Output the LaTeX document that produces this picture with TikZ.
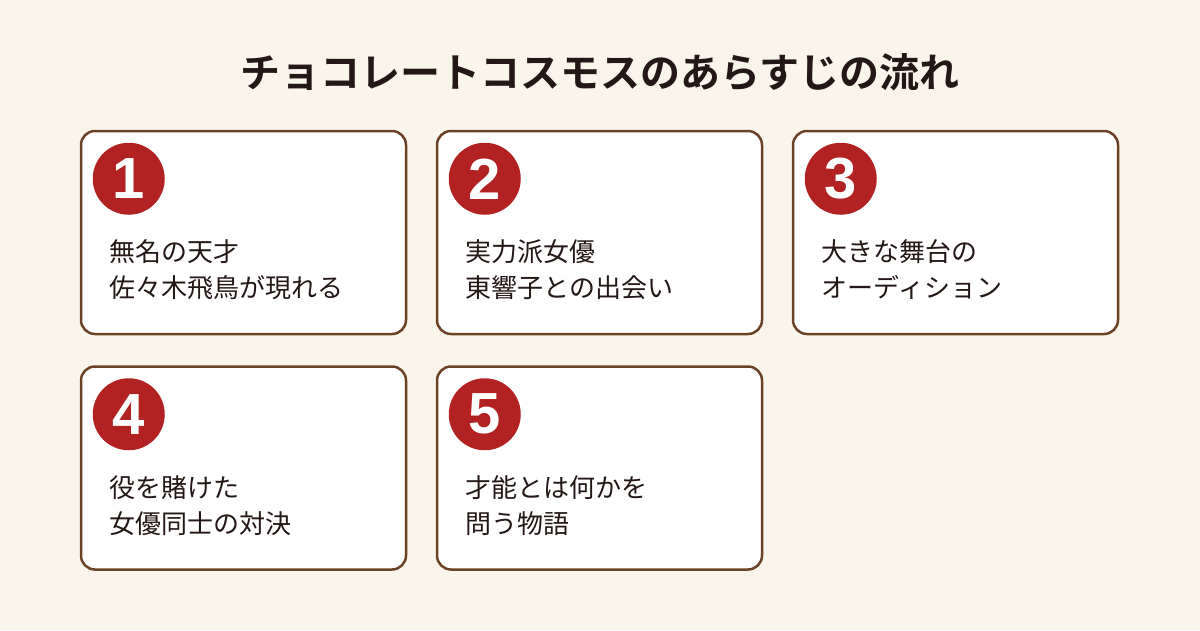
\documentclass[tikz,border=0pt]{standalone}
\usepackage{fontspec}
\newfontfamily\jpfont{Noto Sans CJK JP}
\newfontfamily\jpbold{Noto Sans CJK JP Bold}
\newfontfamily\numfont{Liberation Sans}
\usetikzlibrary{positioning}

\definecolor{fondo}{HTML}{FAF5EA}
\definecolor{marron}{HTML}{6B4226}
\definecolor{rojo}{HTML}{B22222}
\definecolor{tinta}{HTML}{231815}

\tikzset{
  card/.style={draw=marron, line width=2.5pt, fill=white, rounded corners=14pt,
    minimum width=325pt, minimum height=203pt, inner sep=0pt},
  badge/.style={circle, fill=rojo, minimum size=72pt, inner sep=0pt,
    text=white, font=\numfont\bfseries\fontsize{58}{58}\selectfont},
  cardtext/.style={anchor=north west, inner sep=0pt, align=left, text=tinta,
    font=\jpfont\fontsize{26}{36}\selectfont}
}

\begin{document}
\begin{tikzpicture}[x=1pt, y=1pt]

  % --- FONDO ---
  \fill[fondo] (0,0) rectangle (1200,-630);
  \useasboundingbox (0,0) rectangle (1200,-630);

  % --- TITULO ---
  \node[text=tinta, font=\jpbold\fontsize{40}{40}\selectfont] (titulo) at (600,-72)
    {チョコレートコスモスのあらすじの流れ};

  % --- TARJETAS ---
  \node[card] (c1) at (243.5,-232.5) {};
  \node[card] (c2) at (599.5,-232.5) {};
  \node[card] (c3) at (955.5,-232.5) {};
  \node[card] (c4) at (243.5,-468) {};
  \node[card] (c5) at (599.5,-468) {};

  % --- NUMEROS ---
  \node[badge] (n1) at ([shift={(49,-49)}]c1.north west) {1};
  \node[badge] (n2) at ([shift={(49,-49)}]c2.north west) {2};
  \node[badge] (n3) at ([shift={(49,-49)}]c3.north west) {3};
  \node[badge] (n4) at ([shift={(49,-49)}]c4.north west) {4};
  \node[badge] (n5) at ([shift={(49,-49)}]c5.north west) {5};

  % --- TEXTOS ---
  \node[cardtext] (t1) at ([shift={(30,-110)}]c1.north west) {無名の天才\\佐々木飛鳥が現れる};
  \node[cardtext] (t2) at ([shift={(30,-110)}]c2.north west) {実力派女優\\東響子との出会い};
  \node[cardtext] (t3) at ([shift={(30,-110)}]c3.north west) {大きな舞台の\\オーディション};
  \node[cardtext] (t4) at ([shift={(30,-110)}]c4.north west) {役を賭けた\\女優同士の対決};
  \node[cardtext] (t5) at ([shift={(30,-110)}]c5.north west) {才能とは何かを\\問う物語};

\end{tikzpicture}
\end{document}
